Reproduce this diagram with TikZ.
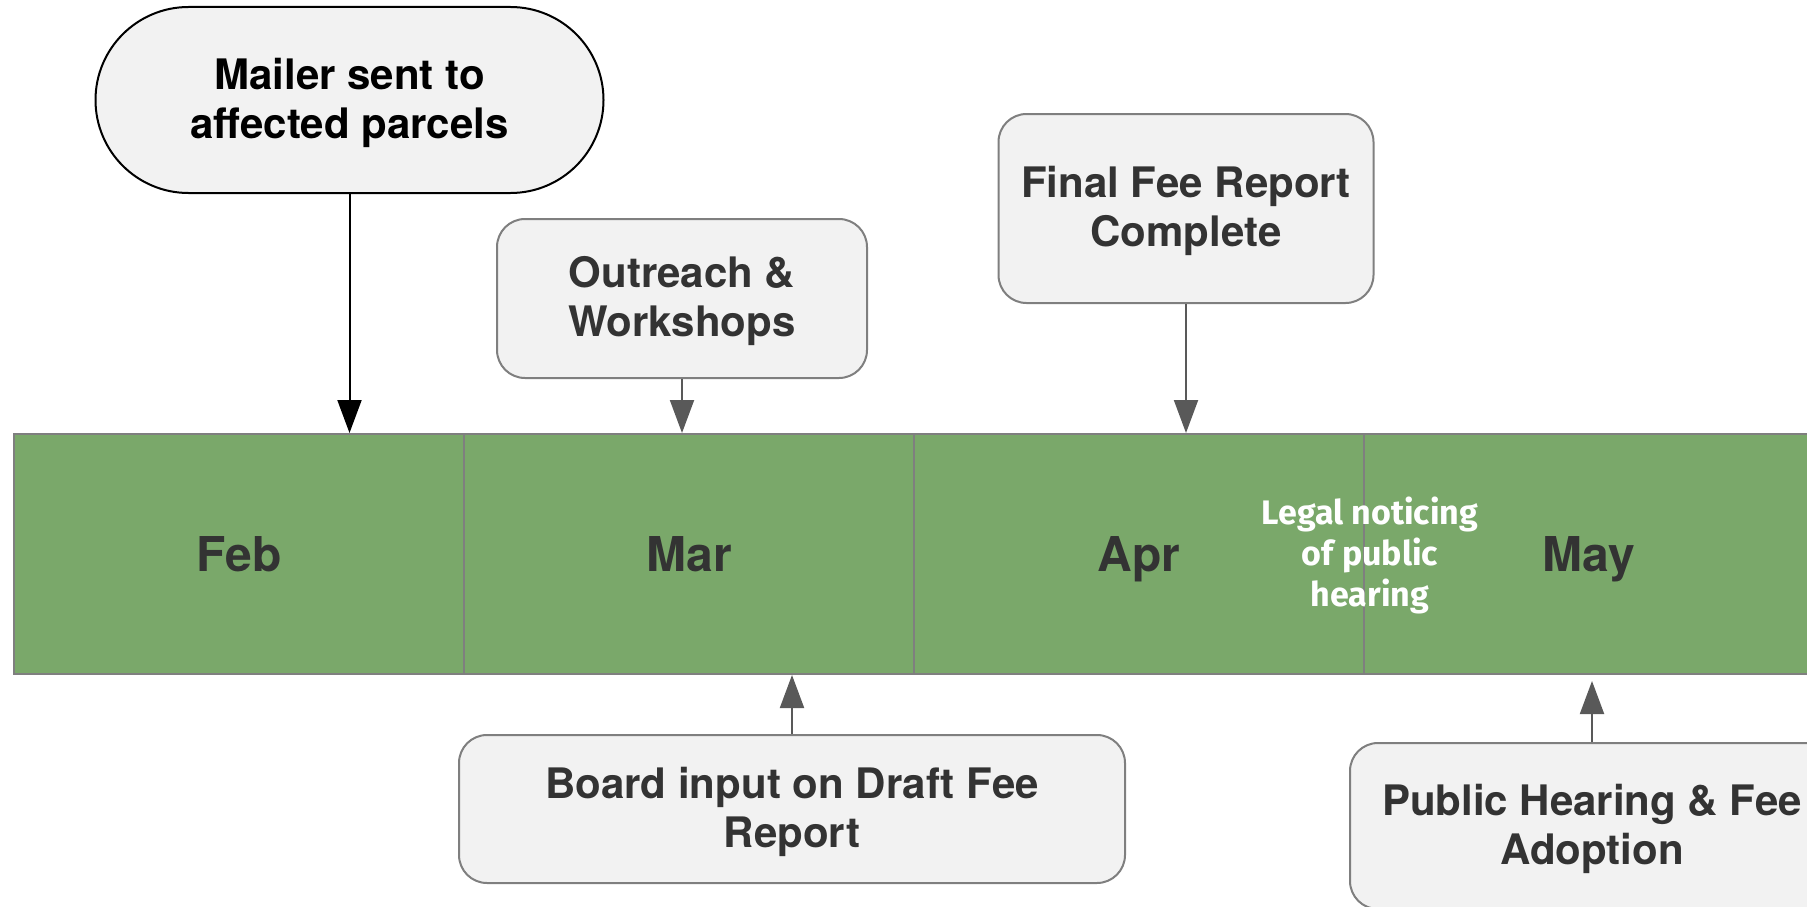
\documentclass[tikz,border=0pt]{standalone}
\usepackage{fontspec}
\setmainfont{TeX Gyre Heros}
\newfontfamily\legalfont{Fira Sans}
\usetikzlibrary{arrows.meta}
\definecolor{boxfill}{HTML}{F2F2F2}
\definecolor{boxline}{HTML}{7F7F7F}
\definecolor{txt}{HTML}{333333}
\definecolor{bargreen}{HTML}{7AA86A}
\definecolor{arrowgray}{HTML}{595959}
\tikzset{
  evbox/.style={draw=boxline, fill=boxfill, line width=2pt, rounded corners=28pt,
    align=center, text=txt, inner sep=0pt, text depth=4pt,
    font=\fontsize{42}{49}\selectfont\bfseries},
  month/.style={draw=boxline, fill=bargreen, line width=2pt, minimum width=450pt,
    minimum height=240pt, inner sep=0pt, text=txt, text height=34pt, text depth=0pt,
    font=\fontsize{48}{52}\selectfont\bfseries},
  conn/.style={draw=arrowgray, line width=2pt, -{Triangle[length=33pt,width=24pt]}},
}
\begin{document}
\begin{tikzpicture}[x=1pt,y=-1pt]
\useasboundingbox (0,0) rectangle (1807,907);
% timeline bar
\node[month] (feb) at (239,554) {Feb};
\node[month] (mar) at (689,554) {Mar};
\node[month] (apr) at (1139,554) {Apr};
\node[month] (may) at (1589,554) {May};
\node[text=white, align=center, font=\legalfont\fontsize{34}{41}\selectfont\bfseries]
  (legal) at (1370,555) {Legal noticing\\of public\\hearing};
% event boxes
\node[evbox, draw=black, text=black, rounded corners=93pt, minimum width=508pt, minimum height=186pt]
  (mailer) at (349.5,100) {Mailer sent to\\affected parcels};
\node[evbox, minimum width=370pt, minimum height=159pt] (outreach) at (682,298.5) {Outreach \&\\Workshops};
\node[evbox, minimum width=375pt, minimum height=189pt] (final) at (1186,208.5) {Final Fee Report\\Complete};
\node[evbox, minimum width=666pt, minimum height=148pt] (board) at (792,809) {Board input on Draft Fee\\Report};
\node[evbox, minimum width=484pt, minimum height=166pt] (public) at (1592,826) {Public Hearing \& Fee\\Adoption};
% connectors
\draw[conn, draw=black, fill=black] (mailer.south) -- (mailer.south |- feb.north);
\draw[conn, fill=arrowgray] (outreach.south) -- (outreach.south |- mar.north);
\draw[conn, fill=arrowgray] (final.south) -- (final.south |- apr.north);
\draw[conn, fill=arrowgray] (board.north) -- (board.north |- mar.south);
\draw[conn, fill=arrowgray, shorten >=6pt] (public.north) -- (public.north |- may.south);
\end{tikzpicture}
\end{document}
